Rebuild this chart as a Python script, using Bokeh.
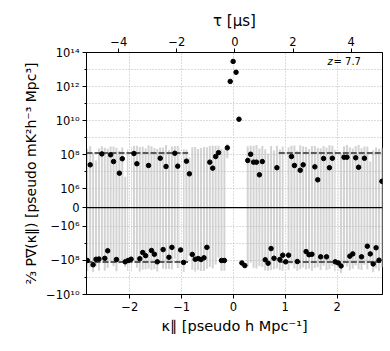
import numpy as np
from bokeh.plotting import figure
from bokeh.models import Range1d, LinearAxis, FixedTicker, Span, Label
from bokeh.embed import file_html
from bokeh.resources import INLINE

# ---- data -------------------------------------------------------------
kpar = np.linspace(-2.82, 2.865, 102)          # kappa_parallel bins [pseudo h/Mpc]
power = [
    -1.0e8, 2.5e7, -1.8e8, -8.5e7, -8.2e7, 1.1e8, -7.5e7, -2.7e7, 9.7e7, 3.9e7,
    -8.8e7, 8.1e6, 5.7e7, -1.2e8, -1.0e8, -8.4e7, 1.16e8, 2.9e7, -7.9e7, -3.4e7,
    -5.2e7, 2.3e7, -2.6e7, -4.3e7, -1.2e8, 6.1e7, -2.3e7, 2.0e7, -6.5e7, -1.7e7,
    1.2e8, 2.1e7, -2.4e7, -1.3e8, 4.1e7, 7.4e6, -4.4e7, -8.5e7, -7.7e7, -8.8e7,
    -7.0e7, -1.7e7, 3.6e7, 1.6e7, 7.7e7, 1.3e8, -1.0e8, -1.0e8, 2.5e8, 2.0e12,
    3.0e13, 6.9e12, 1.2e10, -1.4e8, -2.0e8, 4.5e7, 1.05e8, 3.6e7, 3.6e7, 6.5e6,
    3.9e7, -9.1e7, -1.45e8, -2.0e7, -7.4e7, 1.7e7, -8.8e7, -4.9e7, -1.2e8, -4.9e7,
    7.7e7, 2.3e7, -1.15e8, 1.2e7, 2.5e7, -3.0e7, -4.6e7, -4.3e7, 1.9e7, 3.3e6,
    -6.1e7, 5.9e7, -6.1e7, 1.7e7, 6.1e7, -1.2e8, -1.4e8, -2.1e8, 7.0e7, 7.0e7,
    -5.6e7, -4.1e7, 6.5e7, 1.8e7, -6.1e7, 6.1e7, -1.45e7, -4.1e7, -1.6e8, -1.8e7,
    -9.6e7, 2.7e6,
]
sigma = [
    3.2e8, 2.8e8, 3.0e8, 1.3e8, 3.2e8, 2.0e8, 3.3e8, 2.5e8, 2.0e8, 2.6e8,
    3.4e8, 1.6e8, 2.0e8, 1.25e8, 3.0e8, 3.5e8, 2.2e8, 3.0e8, 3.6e8, 3.2e8,
    2.8e8, 3.3e8, 3.4e8, 2.9e8, 3.3e8, 2.0e8, 2.8e8, 3.5e8, 2.5e8, 3.2e8,
    2.0e8, 3.0e8, 2.6e8, 3.4e8, 1.5e8, 0.6e8, 3.1e8, 3.6e8, 2.9e8, 3.3e8,
    3.5e8, 2.9e8, 2.8e8, 3.1e8, 2.5e8, 2.0e8, 3.2e8, 3.0e8, 1.9e8, 0.0,
    0.0, 0.0, 0.0, 0.0, 0.0, 2.6e8, 2.4e8, 3.0e8, 3.3e8, 2.2e8,
    2.8e8, 3.0e8, 2.6e8, 3.4e8, 2.5e8, 3.1e8, 2.9e8, 3.5e8, 2.8e8, 3.2e8,
    2.5e8, 3.2e8, 2.9e8, 3.4e8, 2.8e8, 3.1e8, 2.6e8, 3.6e8, 3.0e8, 2.5e8,
    3.0e8, 2.6e8, 3.2e8, 3.4e8, 2.7e8, 3.1e8, 2.9e8, 3.3e8, 2.4e8, 3.0e8,
    3.3e8, 2.7e8, 2.6e8, 3.5e8, 3.0e8, 2.4e8, 3.1e8, 0.8e8, 3.4e8, 2.8e8,
    3.2e8, 2.5e8,
]
noise_level = 1.25e8          # dashed noise reference level
window_edge = 0.875           # |kappa| beyond which the noise level is drawn
redshift_label = "7.7"
x_ticks = [-2, -1, 0, 1, 2]
tau_ticks = [-4, -2, 0, 2, 4]
y_major_exp = [14, 12, 10, 8, 6]
y_minor_exp = [13, 11, 9, 7]
y_neg_major_exp = [6, 8, 10]
y_neg_minor_exp = [7, 9]

# ---- symlog transform (matplotlib style, linthresh 1e6, linscale 1) ---
LT = 1e6
LS = 1.0 / (1.0 - 1.0 / 10.0)


def symlog(v):
    v = np.asarray(v, dtype=float)
    a = np.abs(v)
    return np.where(a <= LT, v / LT * LS,
                    np.sign(v) * (LS + np.log10(np.maximum(a, LT) / LT)))


SUP = str.maketrans("0123456789-", "⁰¹²³⁴⁵⁶⁷⁸⁹⁻")


def dec_label(e, neg=False):
    return ("−" if neg else "") + "10" + str(e).translate(SUP)


power = np.array(power)
sigma = np.array(sigma)
y_pt = symlog(power)
y_lo = symlog(power - sigma)
y_hi = symlog(power + sigma)

FONT = "DejaVu Sans"

x_lo, x_hi = -2.835, 2.876
y_bot, y_top = float(symlog(-1e10)), float(symlog(1e14))
p = figure(width=390, height=351, output_backend="svg", toolbar_location=None,
           x_range=Range1d(x_lo, x_hi),
           y_range=Range1d(y_bot, y_top),
           min_border_left=86, min_border_right=8, min_border_top=52,
           min_border_bottom=57)
p.extra_x_ranges = {"tau": Range1d(-5.11, 5.08)}
p.background_fill_color = "white"
p.border_fill_color = "white"
p.outline_line_color = "black"
p.outline_line_width = 1
p.outline_line_alpha = 1

# error bars
p.segment(x0=kpar, y0=y_lo, x1=kpar, y1=y_hi, line_color="#d3d3d3",
          line_width=2, level="image")
# thin white clearances where the vertical grid lines cross the bars
p.segment(x0=x_ticks, y0=[y_bot] * len(x_ticks), x1=x_ticks,
          y1=[y_top] * len(x_ticks), line_color="white", line_width=3,
          level="image")

# zero line
p.add_layout(Span(location=0, dimension="width", line_color="black",
                  line_width=1.2))

# noise level dashed lines
for sgn in (1, -1):
    yl = float(symlog(sgn * noise_level))
    p.line([x_lo, -window_edge], [yl, yl], line_color="#5a5a5a",
           line_width=2, line_dash="6 2")
    p.line([window_edge, x_hi], [yl, yl], line_color="#5a5a5a",
           line_width=2, line_dash="6 2")

# points
p.scatter(kpar, y_pt, size=4.5, color="black")

# ---- axes -------------------------------------------------------------
major = [float(symlog(10.0 ** e)) for e in y_major_exp] + [0.0] + \
        [float(symlog(-10.0 ** e)) for e in y_neg_major_exp]
labels = [dec_label(e) for e in y_major_exp] + ["0"] + \
         [dec_label(e, True) for e in y_neg_major_exp]
minor = [float(symlog(10.0 ** e)) for e in y_minor_exp] + \
        [float(symlog(-10.0 ** e)) for e in y_neg_minor_exp]

yax = p.yaxis[0]
yax.ticker = FixedTicker(ticks=major, minor_ticks=minor)
yax.major_label_overrides = dict(zip(major, labels))
yax.axis_label = "⅔ P∇(κ∥) [pseudo mK²h⁻³ Mpc³]"

xax = p.xaxis[0]
xax.ticker = FixedTicker(ticks=x_ticks, minor_ticks=[])
xax.major_label_overrides = {t: (str(t).replace("-", "−")) for t in x_ticks}
xax.axis_label = "κ∥ [pseudo h Mpc⁻¹]"

top = LinearAxis(x_range_name="tau", axis_label="τ [μs]",
                 ticker=FixedTicker(ticks=tau_ticks, minor_ticks=[]))
top.major_label_overrides = {t: (str(t).replace("-", "−")) for t in tau_ticks}
p.add_layout(top, "above")

for ax in (xax, yax, top):
    ax.axis_line_color = "black"
    ax.major_tick_line_color = "black"
    ax.minor_tick_line_color = "black"
    ax.major_tick_in = 0
    ax.major_tick_out = 4
    ax.minor_tick_in = 0
    ax.minor_tick_out = 2
    ax.major_label_text_font = FONT
    ax.major_label_text_font_size = "11.5px"
    ax.major_label_text_color = "black"
    ax.axis_label_text_font = FONT
    ax.axis_label_text_font_style = "normal"
    ax.axis_label_text_color = "black"
    ax.major_label_standoff = 3
    ax.axis_label_standoff = 4
yax.axis_label_text_font_size = "14px"
xax.axis_label_text_font_size = "14.5px"
top.axis_label_text_font_size = "15px"

# grid
for g in (p.xgrid[0], p.ygrid[0]):
    g.grid_line_color = "#b8b8b8"
    g.grid_line_dash = "1 2"
    g.grid_line_width = 1
p.ygrid[0].minor_grid_line_color = "#b8b8b8"
p.ygrid[0].minor_grid_line_dash = "1 2"

# redshift annotation
p.add_layout(Label(x=1.815, y=8.23, text="z", text_font=FONT,
                   text_font_style="italic", text_font_size="10px",
                   text_color="black"))
p.add_layout(Label(x=1.93, y=8.23, text="= " + redshift_label, text_font=FONT,
                   text_font_size="10px", text_color="black"))

open("out.html", "w").write(file_html(p, INLINE))
